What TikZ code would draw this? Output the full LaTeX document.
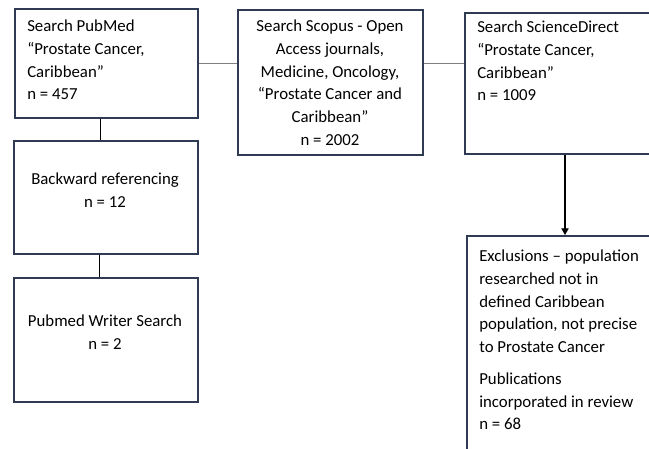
\documentclass[tikz,border=0pt]{standalone}
\usepackage{fontspec}
\setmainfont{Carlito}
\usetikzlibrary{arrows.meta}
\definecolor{boxline}{HTML}{2F3B52}
\definecolor{linkgray}{HTML}{7F7F7F}

\begin{document}
\begin{tikzpicture}[x = 0.75pt, y = -0.75pt, >= {Triangle[length=5pt, width=5.5pt]},
    box/.style = {draw=boxline, line width=1.3pt, fill=white, inner sep=0pt, anchor=north west},
    txt/.style = {inner sep=0pt, font=\fontsize{12.6}{17}\selectfont},
    link/.style = {draw=linkgray, line width=0.8pt},
    drop/.style = {draw=black, line width=0.8pt}]
        \useasboundingbox (0, 0) rectangle (649, 449);
        \clip (0, 0) rectangle (649, 449);
        % search boxes
        \node[box, minimum width=137.25pt, minimum height=81.75pt] (pubmed) at (14, 8) {};
        \node[box, minimum width=138.75pt, minimum height=108.75pt] (scopus) at (237, 9) {};
        \node[box, minimum width=187.5pt, minimum height=105.75pt] (sciencedirect) at (464, 12) {};
        \node[box, minimum width=138pt, minimum height=84.75pt] (backward) at (13, 140) {};
        \node[box, minimum width=138pt, minimum height=93pt] (writer) at (13, 277) {};
        \node[box, minimum width=187.5pt, minimum height=187.5pt] (exclusions) at (466, 235) {};
        % texts
        \node[txt, anchor=north west, align=left] (pubmedtext) at (27, 20)
            {Search PubMed\\“Prostate Cancer,\\Caribbean”\\n = 457};
        \node[txt, anchor=north, align=center] (scopustext) at (330, 20)
            {Search Scopus - Open\\Access journals,\\Medicine, Oncology,\\“Prostate Cancer and\\Caribbean”\\n = 2002};
        \node[txt, anchor=north west, align=left] (sciencedirecttext) at (477, 21)
            {Search ScienceDirect\\“Prostate Cancer,\\Caribbean”\\n = 1009};
        \node[txt, anchor=north, align=center] (backwardtext) at (105, 173)
            {Backward referencing\\n = 12};
        \node[txt, anchor=north, align=center] (writertext) at (105, 315)
            {Pubmed Writer Search\\n = 2};
        \node[txt, anchor=north west, align=left] (exclusionstext) at (479, 250)
            {Exclusions – population\\researched not in\\defined Caribbean\\population, not precise\\to Prostate Cancer\\[7pt]Publications\\incorporated in review\\n = 68};
        % connectors
        \draw[link] (pubmed.east) -- (pubmed.east -| scopus.west);
        \draw[link] (scopus.east |- pubmed.east) -- (sciencedirect.west |- pubmed.east);
        \draw[drop] ([xshift=-4.5pt]pubmed.south) -- ([xshift=-4.5pt]pubmed.south |- backward.north);
        \draw[drop] ([xshift=-4.5pt]backward.south) -- ([xshift=-4.5pt]backward.south |- writer.north);
        \draw[drop, ->] ([xshift=75.75pt]sciencedirect.south west) -- ([xshift=75.75pt]sciencedirect.south west |- exclusions.north);
\end{tikzpicture}
\end{document}
